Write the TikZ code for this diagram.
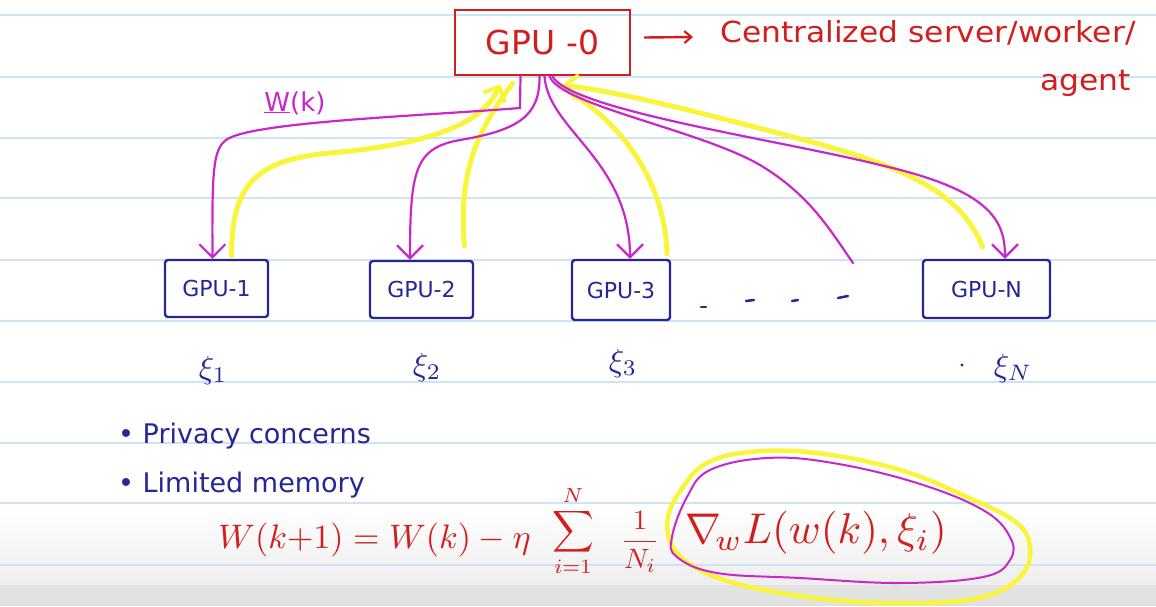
\documentclass[tikz,border=0pt]{standalone}
\usepackage{graphicx}
\usepackage{fontspec}
\setmainfont{DejaVu Sans}
\usetikzlibrary{arrows.meta,calc}
\definecolor{penred}{RGB}{210,30,30}
\definecolor{penblue}{RGB}{38,38,150}
\definecolor{penmag}{RGB}{200,40,200}
\definecolor{penyel}{RGB}{248,245,60}
\definecolor{ruled}{RGB}{206,227,243}
\definecolor{paperbot}{RGB}{226,226,226}
\tikzset{
  ruling/.style={draw=ruled, line width=2.4pt},
  server/.style={draw=penred, line width=2.4pt, text=penred, font=\fontsize{33}{38}\selectfont,
    minimum width=175pt, minimum height=65pt, inner sep=0pt},
  gpubox/.style={draw=penblue, line width=2.4pt, rounded corners=3pt, text=penblue,
    font=\fontsize{22}{26}\selectfont, minimum height=57pt, inner sep=0pt},
  redtext/.style={text=penred, font=\fontsize{29}{34}\selectfont, inner sep=0pt},
  bluetext/.style={text=penblue, font=\fontsize{27}{32}\selectfont, inner sep=0pt},
  xilabel/.style={text=penblue, inner sep=0pt},
  eqtext/.style={text=penred, inner sep=0pt},
  sendw/.style={draw=penmag, line width=2.2pt, line cap=round,
    -{Straight Barb[length=13pt,width=26pt,line width=2.2pt]}},
  sendplain/.style={draw=penmag, line width=2.2pt, line cap=round},
  retgrad/.style={draw=penyel, line width=5pt, line cap=round},
  retgradtip/.style={draw=penyel, line width=5pt, line cap=round,
    -{Straight Barb[length=12pt,width=24pt,line width=4pt]}},
  redarr/.style={draw=penred, line width=2.4pt, -{Straight Barb[length=7pt,width=12pt,line width=2.2pt]}},
  dashdot/.style={draw=penblue, line width=2.5pt, line cap=round}
}
\begin{document}
\begin{tikzpicture}[x=1pt,y=-1pt]
\useasboundingbox (0,0) rectangle (1156,606);
% paper
\fill[white] (0,0) rectangle (1156,606);
\shade[top color=white, bottom color=paperbot!60] (0,505) rectangle (1156,585);
\fill[paperbot] (0,585) rectangle (1156,606);
\foreach \yy in {15,77,138,198,260,321,382,443,503,565}
  \draw[ruling] (0,\yy) -- (1156,\yy);

% nodes
\node[server] (g0) at (542.5,42.5) {GPU -0};
\node[redtext, anchor=base west] (cent) at (720,42) {\scalebox{1.08}[1]{Centralized server/worker/}};
\node[redtext, anchor=base west] (agent) at (1040,90) {\scalebox{1.08}[1]{agent}};
\node[gpubox, minimum width=103pt] (g1) at (216.5,288.5) {GPU-1};
\node[gpubox, minimum width=103pt] (g2) at (421.5,289.5) {GPU-2};
\node[gpubox, minimum width=98pt, minimum height=60pt] (g3) at (621,290) {GPU-3};
\node[gpubox, minimum width=127pt, minimum height=58pt] (gN) at (986.5,289) {GPU-N};

\node[text=penmag, font=\fontsize{26}{30}\selectfont, inner sep=0pt] (wk) at (295,103) {\underline{W}(k)};

\node[xilabel] (x1) at (213,370) {\scalebox{3.2}{$\xi_1$}};
\node[xilabel] (x2) at (427,367) {\scalebox{3.2}{$\xi_2$}};
\node[xilabel] (x3) at (623,363) {\scalebox{3.2}{$\xi_3$}};
\node[xilabel] (xN) at (1013,368) {\scalebox{3.2}{$\xi_N$}};
\fill[penblue] (962,365) circle (1.6pt);

\node[bluetext, anchor=base west] (priv) at (118,443) {• Privacy concerns};
\node[bluetext, anchor=base west] (mem) at (118,492) {• Limited memory};

% dots between GPU-3 and GPU-N
\draw[dashdot] (701,307) -- (706,307);
\draw[dashdot] (746,301) -- (754,300);
\draw[dashdot] (792,301) -- (798,300);
\draw[dashdot] (838,298) -- (848,296);

% equation
\node[eqtext, anchor=west] (lhs) at (218,540) {\scalebox{3.4}{$W(k{+}1) = W(k) - \eta$}};
\node[eqtext] (sig) at (573,531) {\scalebox{2.9}{$\displaystyle\sum_{i=1}^{N}$}};
\node[eqtext] (frc) at (640,542) {\scalebox{2.8}{$\displaystyle\frac{1}{N_i}$}};
\node[eqtext] (grad) at (816,533) {\scalebox{4.3}{$\nabla_{\!w} L(w(k),\xi_i)$}};

% circling of the gradient term
\draw[retgrad, line width=4.5pt] plot[smooth cycle, tension=0.65] coordinates {
 (668,517) (683,487) (707,463) (750,452) (817,453) (900,470) (967,497) (1017,523)
 (1030,550) (1020,577) (983,597) (917,603) (833,600) (750,587) (700,570) (673,547)};
\draw[sendplain, line width=2pt] plot[smooth cycle, tension=0.65] coordinates {
 (672,537) (687,497) (710,470) (767,458) (833,463) (917,483) (983,510) (1010,537)
 (1010,560) (983,577) (900,583) (800,578) (717,573) (677,557)};

% red arrow to description
\draw[redarr] ($(g0.east)+(13,-5)$) -- ($(cent.base west)+(-27,-5)$);

% yellow returns (gradients) to GPU-0
\draw[retgradtip] ($(g1.north)+(15,-3)$) .. controls (232,190) and (250,160) .. (330,153)
   .. controls (420,145) and (480,128) .. ($(g0.south)+(-42,8)$);
\draw[retgrad] ($(g2.north)+(43,-14)$) .. controls (458,170) and (478,130) .. ($(g0.south)+(-30,7)$);
\draw[retgrad] ($(g3.north)+(46,-5)$) .. controls (665,180) and (620,120) .. ($(g0.south)+(18,10)$);
\draw[retgradtip] ($(gN.north)+(-4,-12)$) .. controls (960,190) and (900,165) .. (793,137)
   .. controls (690,110) and (620,92) .. ($(g0.south)+(20,9)$);

% magenta W(k) broadcasts
\draw[sendw] ($(g0.south)+(-22,0)$) -- (520,108) .. controls (420,116) and (250,122) .. (226,140)
   .. controls (213,150) and (212,170) .. ($(g1.north)+(-4,0)$);
\draw[sendw] ($(g0.south)+(-3,0)$) .. controls (540,115) and (520,130) .. (460,140)
   .. controls (415,148) and (410,170) .. ($(g2.north)+(-11.5,0)$);
\draw[sendw] ($(g0.south)+(2,0)$) .. controls (548,130) and (630,160) .. ($(g3.north)+(9,0)$);
\coordinate (mEnd) at (853,263);
\draw[sendplain] ($(g0.south)+(7,0)$) .. controls (560,105) and (700,130) .. (760,165)
   .. controls (810,195) and (830,230) .. (mEnd);
\draw[sendw] ($(g0.south)+(10,0)$) .. controls (570,110) and (780,140) .. (880,165)
   .. controls (990,190) and (1005,220) .. ($(gN.north)+(18.5,0)$);
\end{tikzpicture}
\end{document}
